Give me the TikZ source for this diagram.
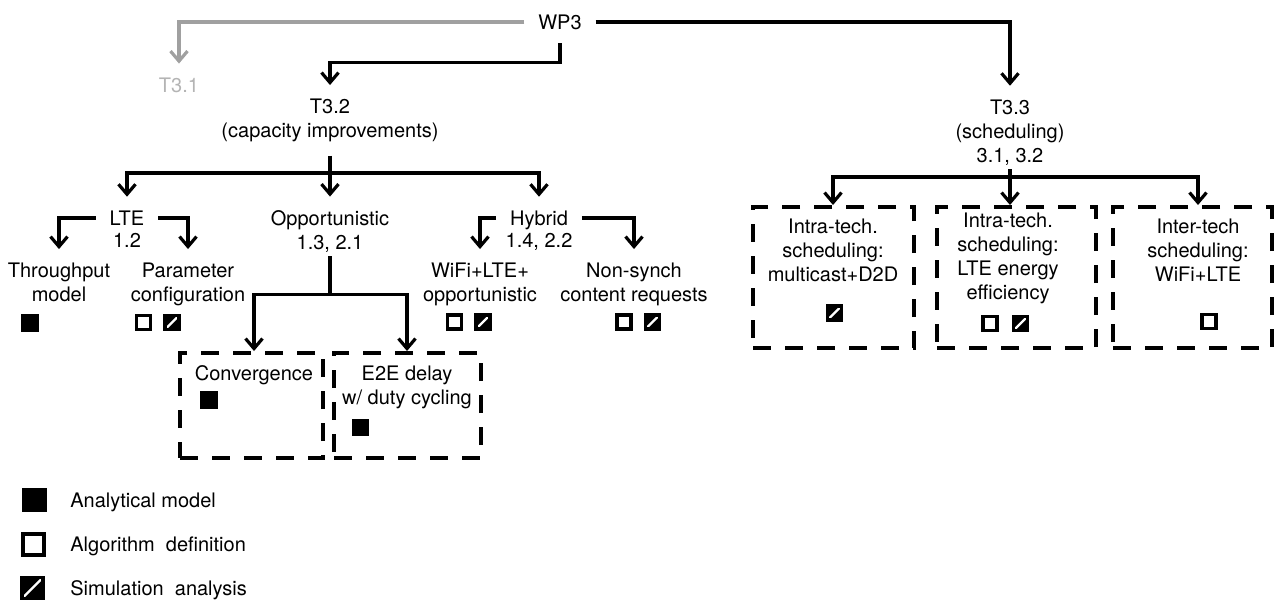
\documentclass[tikz,border=0pt]{standalone}
\usepackage{fontspec}
\setmainfont{TeX Gyre Heros}
\usetikzlibrary{positioning, arrows.meta, calc}
\definecolor{branchgray}{HTML}{A0A0A0}
\definecolor{labelgray}{HTML}{B4B4B4}

\begin{document}
\begin{tikzpicture}[
    x=0.5pt, y=-0.5pt,
    >={Straight Barb[length=5pt, width=8.5pt]},
    font=\fontsize{10}{12}\selectfont,
    lbl/.style={align=center, inner sep=0pt, outer sep=7pt},
    conn/.style={->, line width=1.6pt},
    stem/.style={line width=1.6pt},
    greyconn/.style={->, line width=1.6pt, branchgray},
    taskbox/.style={draw, line width=2pt, dash pattern=on 9pt off 7pt, inner sep=0pt},
    anamark/.style={draw, fill=black, line width=1.6pt, minimum size=7pt, inner sep=0pt},
    algmark/.style={draw, fill=white, line width=1.6pt, minimum size=7pt, inner sep=0pt},
    simmark/.style={algmark, fill=black, path picture={\draw[white, line width=1.1pt] (path picture bounding box.south west) -- (path picture bounding box.north east);}},
    legtxt/.style={anchor=base west, inner sep=0pt}
]
\useasboundingbox (0,0) rectangle (1277,601);

% 1. Work package and tasks
\node[lbl] (wp3) at (560,22) {WP3};
\node[lbl, text=labelgray] (t31) at (179,85) {T3.1};
\node[lbl] (t32) at (330,120.5) {T3.2\\(capacity improvements)};
\node[lbl] (t33) at (1010,132.5) {T3.3\\(scheduling)\\3.1, 3.2};

\draw[greyconn] (wp3.west) -| (t31.north);
\draw[conn] (wp3.south) -- ++(0,19) -| (t32.north);
\draw[conn] (wp3.east) -| (t33.north);

% 2. T3.2 branches
\node[lbl, text depth=0pt] (lte) at (127,218) {LTE};
\node[lbl] (lte_ref) at (127,240) {1.2};
\node[lbl] (opp) at (330,231.5) {Opportunistic\\1.3, 2.1};
\node[lbl, text depth=0pt] (hyb) at (539,218) {Hybrid};
\node[lbl] (hyb_ref) at (539,241.5) {1.4, 2.2};

\draw[stem] (t32.south) -- ++(0,17) coordinate (t32_split);
\draw[conn] (t32_split) -| (lte.north);
\draw[conn] (t32_split) -| (hyb.north);
\draw[conn] (t32.south) -- (opp.north);

% 3. Leaves of LTE and Hybrid
\node[lbl] (thr) at (59,282.5) {Throughput\\model};
\node[lbl] (par) at (188,284.5) {Parameter\\configuration};
\node[lbl] (wifi) at (480,284.5) {WiFi+LTE+\\opportunistic};
\node[lbl] (nsy) at (634,284.5) {Non-synch\\content requests};

\draw[conn] (lte.west) -| (thr.north);
\draw[conn] (lte.east) -| (par.north);
\draw[conn] (hyb.west) -| (wifi.north);
\draw[conn] (hyb.east) -| (nsy.north);

\node[anamark] (thr_a) at (30,323) {};
\node[algmark] (par_d) at (143.5,322.5) {};
\node[simmark] (par_s) at (172,322.5) {};
\node[algmark] (wifi_d) at (454.5,322) {};
\node[simmark] (wifi_s) at (483,322) {};
\node[algmark] (nsy_d) at (624,322) {};
\node[simmark] (nsy_s) at (652.5,322) {};

% 4. Opportunistic sub-tasks
\node[taskbox, minimum width=71.5pt, minimum height=52.5pt] (conv_box) at (251.5,405.5) {};
\node[taskbox, minimum width=73.5pt, minimum height=52.5pt] (e2e_box) at (407.5,405.5) {};
\node[lbl, outer sep=0pt] (conv) at (254,375) {Convergence};
\node[lbl, outer sep=0pt] (e2e) at (407,387.5) {E2E delay\\w/ duty cycling};

\draw[stem] ([yshift=5pt]opp.south) -- ++(0,38) coordinate (opp_split);
\draw[conn] (opp_split) -| (conv_box.north -| conv);
\draw[conn] (opp_split) -| (e2e_box.north -| e2e);

\node[anamark] (conv_a) at (209,400) {};
\node[anamark] (e2e_a) at (360.5,427.5) {};

% 5. T3.3 scheduling boxes
\node[taskbox, minimum width=80.5pt, minimum height=70.5pt] (sched1_box) at (833.5,277.5) {};
\node[taskbox, minimum width=79.5pt, minimum height=70.5pt] (sched2_box) at (1016.5,277.5) {};
\node[taskbox, minimum width=79.5pt, minimum height=70.5pt] (sched3_box) at (1192.5,277.5) {};
\node[lbl, outer sep=0pt] (sched1) at (833,250) {Intra-tech.\\scheduling:\\multicast+D2D};
\node[lbl, outer sep=0pt] (sched2) at (1008,258.5) {Intra-tech.\\scheduling:\\LTE energy\\efficiency};
\node[lbl, outer sep=0pt] (sched3) at (1198,250) {Inter-tech\\scheduling:\\WiFi+LTE};

\coordinate (t33_split) at (1010,177);
\draw[conn] ([yshift=5pt]t33.south) -- (t33.south |- sched2_box.north);
\draw[conn] (t33_split) -| (sched1_box.north -| sched1);
\draw[conn] (t33_split) -| (sched3_box.north -| sched3);

\node[simmark] (sched1_s) at (834.5,313) {};
\node[algmark] (sched2_d) at (990,323.5) {};
\node[simmark] (sched2_s) at (1020.5,323.5) {};
\node[algmark] (sched3_d) at (1209,321.5) {};

% 6. Legend
\node[anamark, minimum size=10.5pt] (leg_a) at (34.5,500) {};
\node[algmark, minimum size=10.5pt] (leg_d) at (33.5,544.5) {};
\node[simmark, minimum size=10.5pt] (leg_s) at (32.5,588) {};
\node[legtxt] (leg_a_txt) at (70,507) {Analytical model};
\node[legtxt] (leg_d_txt) at (70,551.5) {Algorithm\ \ definition};
\node[legtxt] (leg_s_txt) at (70,595) {Simulation\ \ analysis};

\end{tikzpicture}
\end{document}
